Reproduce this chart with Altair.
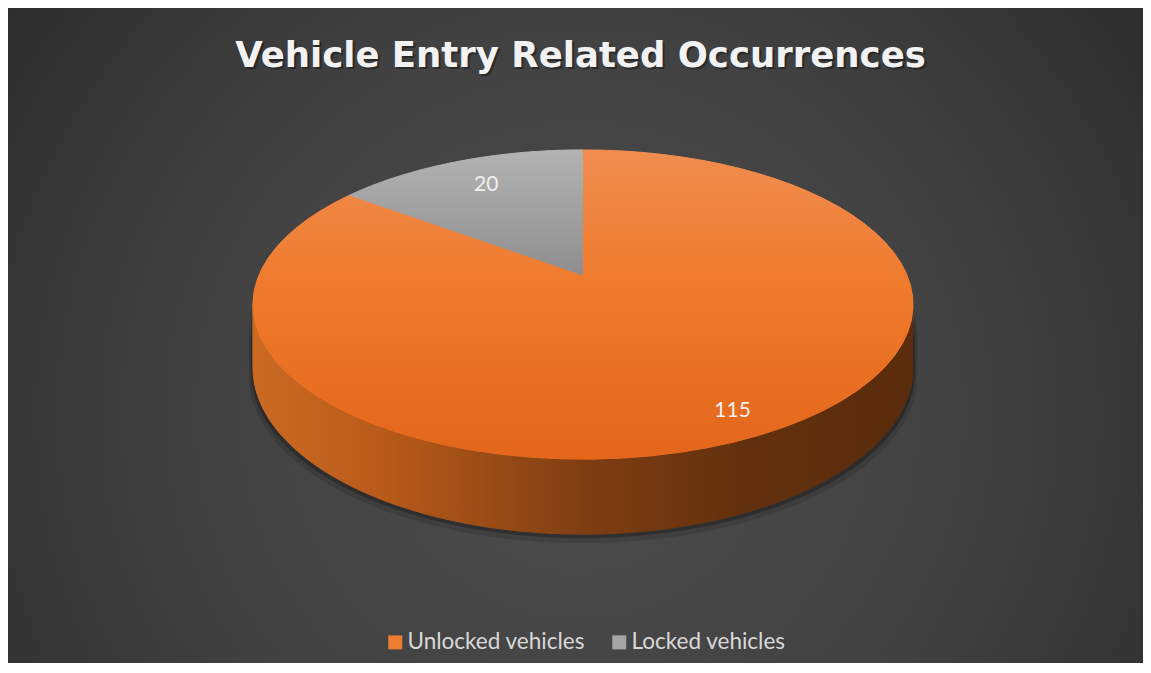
import altair as alt
import pandas as pd

# ---- data ----
categories = ["Unlocked vehicles", "Locked vehicles"]
values = [115, 20]
slice_colors = ["#ED7D31", "#A5A5A5"]
title_text = "Vehicle Entry Related Occurrences"

# ---- layout / geometry parameters (styles, not data) ----
W, H = 1135, 655
U = 330.0             # px per unit
CX, CY = 575.0, 267.0 # pie apex in view px
A = 324.0 / U         # horizontal radius (before perspective)
KK = 149.0 / U        # vertical radius of top (before perspective)
DH = 60.7 / U         # wall depth (before perspective)
P = 0.191             # perspective factor
N = 72
RL = 0.83             # label radius fraction

df = pd.DataFrame({"category": categories, "value": values})

xs = alt.Scale(domain=[-CX / U, (W - CX) / U], nice=False, zero=False)
ys = alt.Scale(domain=[-(H - CY) / U, CY / U], nice=False, zero=False)


def lingrad(stops, horizontal=False):
    return {"gradient": "linear", "stops": [{"offset": o, "color": c} for o, c in stops],
            "x1": 0, "y1": 0, "x2": 1 if horizontal else 0, "y2": 0 if horizontal else 1}


base = (
    alt.Chart(df)
    .transform_joinaggregate(total="sum(value)")
    .transform_window(cum="sum(value)", frame=[None, 0])
    .transform_calculate(a0="2*PI*(datum.cum-datum.value)/datum.total")
    .transform_calculate(a1="2*PI*datum.cum/datum.total")
    .transform_calculate(mid="(datum.a0+datum.a1)/2")
)

enc = dict(
    x=alt.X("px:Q", scale=xs, axis=None),
    y=alt.Y("py:Q", scale=ys, axis=None),
    order=alt.Order("s:Q"),
)

# top surface slices: apex + arc points (perspective projected)
top = (
    base.transform_calculate(s=f"sequence(-1, {N + 1})")
    .transform_flatten(["s"])
    .transform_calculate(t=f"datum.a0+(datum.a1-datum.a0)*max(datum.s,0)/{N}")
    .transform_calculate(px=f"datum.s<0 ? 0 : {A}*sin(datum.t)/(1+{P}*cos(datum.t))")
    .transform_calculate(py=f"datum.s<0 ? 0 : {KK}*cos(datum.t)/(1+{P}*cos(datum.t))")
)


# visible front wall, between the two silhouette angles
def wall(shift=0.0, xscale=1.0):
    return (
        base.transform_calculate(lo=f"max(datum.a0, acos(-{P}))")
        .transform_calculate(hi=f"min(datum.a1, 2*PI-acos(-{P}))")
        .transform_filter("datum.hi > datum.lo")
        .transform_calculate(s=f"sequence(0, {2 * N + 2})")
        .transform_flatten(["s"])
        .transform_calculate(
            t=f"datum.s<={N} ? datum.lo+(datum.hi-datum.lo)*datum.s/{N} : datum.hi-(datum.hi-datum.lo)*(datum.s-{N + 1})/{N}"
        )
        .transform_calculate(px=f"{xscale}*{A}*sin(datum.t)/(1+{P}*cos(datum.t))")
        .transform_calculate(
            py=f"({KK}*cos(datum.t) - (datum.s>{N} ? {DH} : 0))/(1+{P}*cos(datum.t)) - {shift}")
    )


shadow2 = wall(9 / U, 1.012).mark_line(filled=True, color="#000000", opacity=0.12).encode(**enc)
shadow1 = wall(4 / U, 1.006).mark_line(filled=True, color="#000000", opacity=0.25).encode(**enc)

side_grad = lingrad([(0, "#CC6A22"), (0.2, "#B85A1A"), (0.5, "#7F3E12"), (0.75, "#62300E"), (1, "#5A2B0C")],
                    horizontal=True)
side = wall().mark_line(filled=True, color=side_grad, stroke=side_grad, strokeWidth=1).encode(**enc)

top_flat = top.mark_line(filled=True).encode(
    color=alt.Color(
        "category:N",
        scale=alt.Scale(domain=categories, range=slice_colors),
        legend=alt.Legend(
            title=None, orient="none", legendX=376, legendY=623, direction="horizontal",
            symbolType="square", symbolSize=196, symbolStrokeWidth=0, symbolOpacity=1,
            labelFont="Lato", labelFontSize=22.5, labelColor="#D9D9D9", labelLimit=400,
            columnPadding=23, labelOffset=1, padding=0,
        ),
    ),
    **enc,
)

orange_grad = lingrad([(0, "#F08D50"), (0.45, "#EF7A2B"), (1, "#E3661B")])
grey_grad = lingrad([(0, "#B3B3B3"), (1, "#8E8E8E")])
top_orange = top.transform_filter(alt.datum.category == categories[0]).mark_line(
    filled=True, color=orange_grad, stroke=orange_grad, strokeWidth=1).encode(**enc)
top_grey = top.transform_filter(alt.datum.category == categories[1]).mark_line(
    filled=True, color=grey_grad, stroke=grey_grad, strokeWidth=1).encode(**enc)

labels = (
    base.transform_calculate(px=f"{A}*{RL}*sin(datum.mid)/(1+{P}*{RL}*cos(datum.mid))")
    .transform_calculate(py=f"{KK}*{RL}*cos(datum.mid)/(1+{P}*{RL}*cos(datum.mid))")
    .mark_text(font="Lato", fontSize=21, color="#F0F0F0", baseline="middle", align="center", dx=9, dy=7)
    .encode(x=alt.X("px:Q", scale=xs, axis=None), y=alt.Y("py:Q", scale=ys, axis=None), text="value:Q")
)

tdf = pd.DataFrame({"t": [title_text]})
title_shadow = alt.Chart(tdf).mark_text(
    font="DejaVu Sans", fontSize=35.5, fontWeight="bold", color="#000000", opacity=0.35,
    align="center", baseline="alphabetic").encode(x=alt.value(574.5), y=alt.value(61), text="t:N")
title_main = alt.Chart(tdf).mark_text(
    font="DejaVu Sans", fontSize=35.5, fontWeight="bold", color="#F2F2F2",
    align="center", baseline="alphabetic").encode(x=alt.value(572.5), y=alt.value(59), text="t:N")

bg_grad = {
    "gradient": "radial",
    "x1": 0.503, "y1": 0.57, "r1": 0,
    "x2": 0.503, "y2": 0.57, "r2": 0.78,
    "stops": [
        {"offset": 0, "color": "#4D4D4D"},
        {"offset": 0.45, "color": "#414141"},
        {"offset": 1, "color": "#222222"},
    ],
}
background = alt.Chart(tdf).mark_rect(color=bg_grad).encode(
    x=alt.value(0), x2=alt.value(W), y=alt.value(0), y2=alt.value(H))

chart = (
    alt.layer(background, shadow2, shadow1, side, top_flat, top_orange, top_grey, labels, title_shadow, title_main)
    .properties(width=W, height=H, padding=0, autosize=alt.AutoSizeParams(type="none"), background="#2A2A2A")
    .configure_view(strokeWidth=0)
)

chart.save("out.html", embed_options={"renderer": "svg", "actions": False})
